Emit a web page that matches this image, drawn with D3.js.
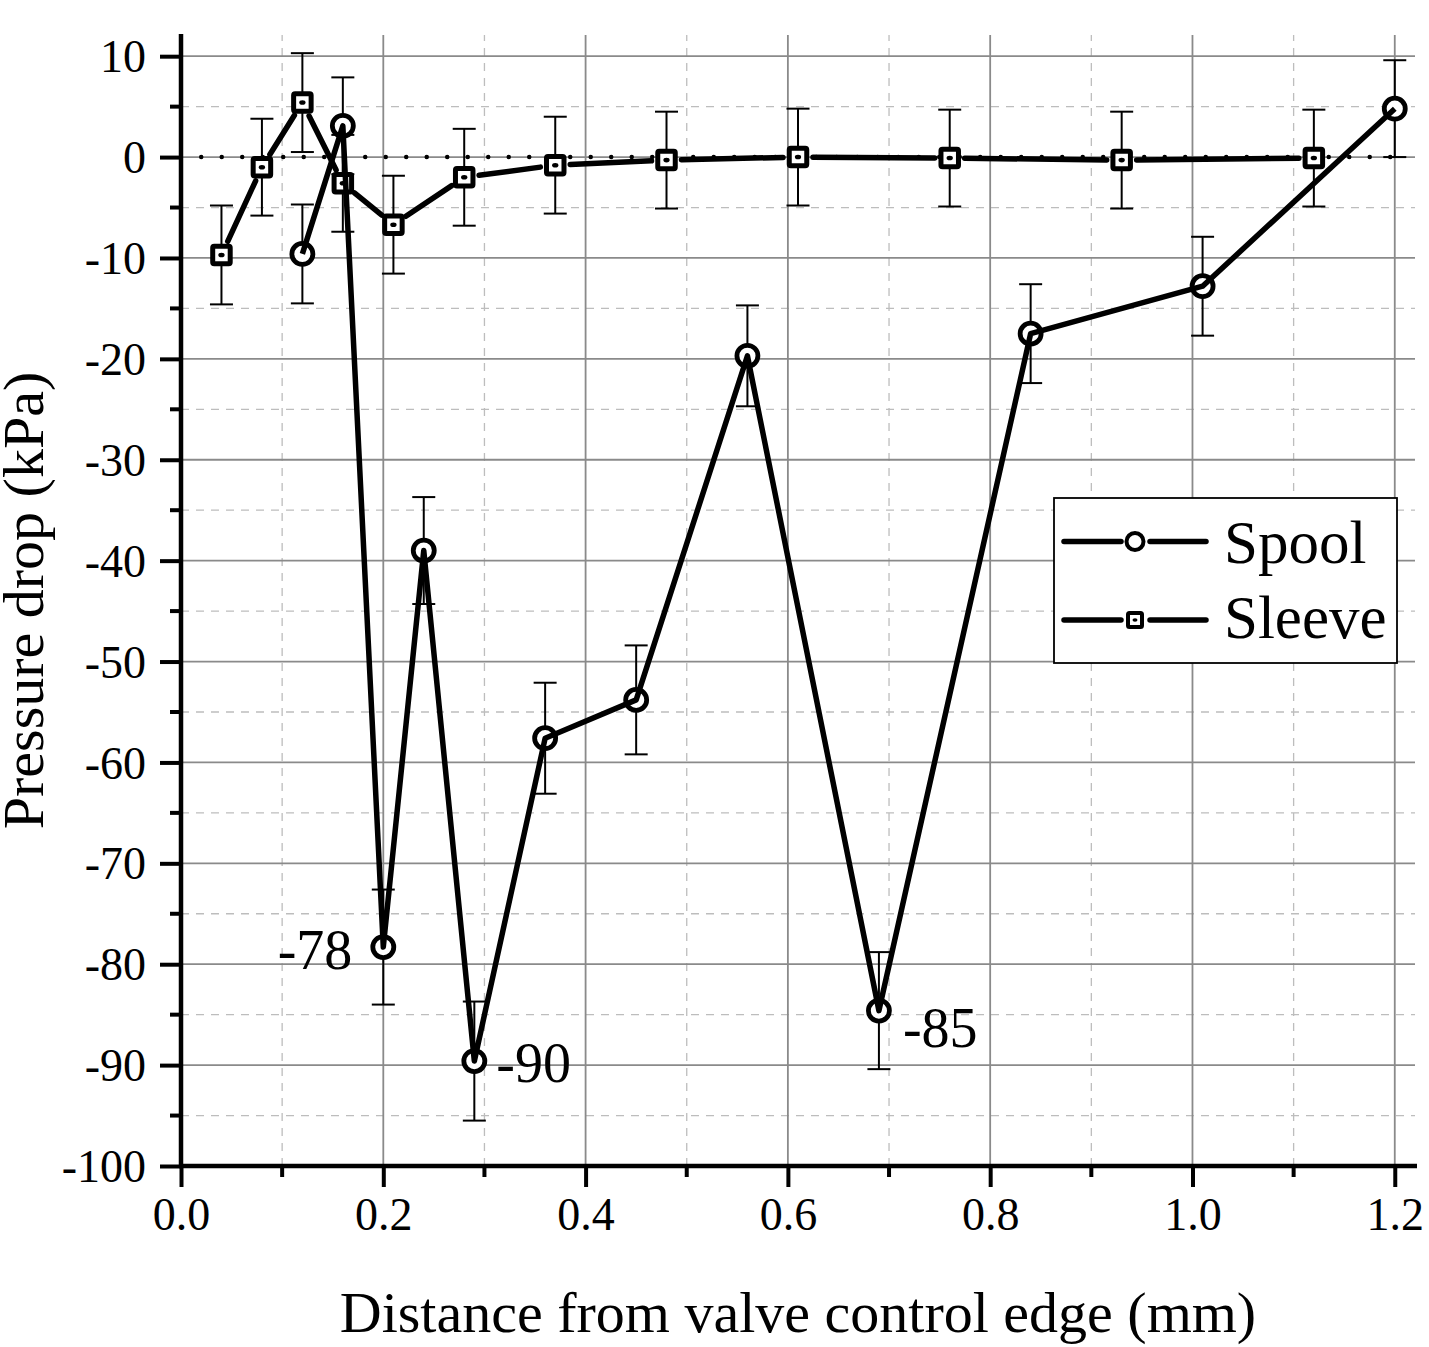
<!DOCTYPE html>
<html>
<head>
<meta charset="utf-8">
<script src="https://cdn.jsdelivr.net/npm/d3@7"></script>
<style>
  body { margin: 0; background: #fff; }
  svg { display: block; font-family: "Liberation Serif", "Times New Roman", serif; }
</style>
</head>
<body>
<div id="chart"></div>
<script>
// data
var spoolX = [0.12, 0.16, 0.20, 0.24, 0.29, 0.36, 0.45, 0.56, 0.69, 0.84, 1.01, 1.20];
var spoolY = [-9.6, 3.1, -78.3, -39.0, -89.6, -57.6, -53.8, -19.7, -84.6, -17.5, -12.8, 4.8];
var spoolErr = [4.9, 4.8, 5.7, 5.3, 5.9, 5.5, 5.4, 5.0, 5.8, 4.9, 4.9, 4.8];

var sleeveX = [0.04, 0.08, 0.12, 0.16, 0.21, 0.28, 0.37, 0.48, 0.61, 0.76, 0.93, 1.12];
var sleeveY = [-9.7, -1.0, 5.4, -2.6, -6.7, -2.0, -0.8, -0.3, 0.0, -0.1, -0.3, -0.1];
var sleeveErr = [4.9, 4.8, 4.9, 4.8, 4.85, 4.8, 4.8, 4.8, 4.8, 4.8, 4.8, 4.8];

var xTicks = [0, 0.2, 0.4, 0.6, 0.8, 1.0, 1.2];
var yTicks = [10, 0, -10, -20, -30, -40, -50, -60, -70, -80, -90, -100];
var peakLabels = [{i: 2, text: "-78"}, {i: 4, text: "-90"}, {i: 8, text: "-85"}];

var W = 1429, H = 1347;
var margin = {left: 181, right: 14, top: 35, bottom: 181};
var serif = "Liberation Serif, Times New Roman, serif";

var svg = d3.select("#chart").append("svg")
  .attr("width", W).attr("height", H);

var x = d3.scaleLinear().domain([0, 1.22]).range([margin.left, W - margin.right]);
var y = d3.scaleLinear().domain([-100, 12.1]).range([H - margin.bottom, margin.top]);

var x0 = x.range()[0], x1 = x.range()[1], y0 = y.range()[0], y1 = y.range()[1];

//grid lines
var minorX = d3.range(0.1, 1.22, 0.2);
var minorY = d3.range(-95, 12, 10);

svg.append("g").selectAll("line").data(minorX).enter().append("line")
  .attr("x1", d => x(d)).attr("x2", d => x(d)).attr("y1", y0).attr("y2", y1)
  .attr("stroke", "#bdbdbd").attr("stroke-width", 1.3).attr("stroke-dasharray", "8,7");
svg.append("g").selectAll("line").data(minorY).enter().append("line")
  .attr("y1", d => y(d)).attr("y2", d => y(d)).attr("x1", x0).attr("x2", x1)
  .attr("stroke", "#bdbdbd").attr("stroke-width", 1.3).attr("stroke-dasharray", "8,7");
svg.append("g").selectAll("line").data(xTicks.slice(1)).enter().append("line")
  .attr("x1", d => x(d)).attr("x2", d => x(d)).attr("y1", y0).attr("y2", y1)
  .attr("stroke", "#8a8a8a").attr("stroke-width", 1.8);
svg.append("g").selectAll("line").data(yTicks.slice(0, -1)).enter().append("line")
  .attr("y1", d => y(d)).attr("y2", d => y(d)).attr("x1", x0).attr("x2", x1)
  .attr("stroke", "#8a8a8a").attr("stroke-width", 1.8);

// dotted zero reference
svg.append("line")
  .attr("x1", x(0.02)).attr("x2", x(1.21)).attr("y1", y(0)).attr("y2", y(0))
  .attr("stroke", "#000").attr("stroke-width", 4.5)
  .attr("stroke-linecap", "round").attr("stroke-dasharray", "0,20.5");

// axes
var xAxis = d3.axisBottom(x).tickValues(xTicks).tickSize(21).tickPadding(10)
  .tickFormat(d3.format(".1f"));
var gx = svg.append("g").attr("transform", "translate(0," + y0 + ")").call(xAxis);
gx.selectAll(".tick line").attr("stroke-width", 4);
gx.selectAll("text").attr("font-size", 46).attr("fill", "#000")
  .attr("font-family", serif).attr("dy", "0.72em");
gx.select(".domain").remove();

var yAxis = d3.axisLeft(y).tickValues(yTicks).tickSize(21).tickPadding(14)
  .tickFormat(d => String(d));
var gy = svg.append("g").attr("transform", "translate(" + x0 + ",0)").call(yAxis);
gy.selectAll(".tick line").attr("stroke-width", 4);
gy.selectAll("text").attr("font-size", 46).attr("fill", "#000")
  .attr("font-family", serif).attr("dy", "0.34em");
gy.select(".domain").remove();

// minor ticks
svg.append("g").selectAll("line").data(minorX).enter().append("line")
  .attr("x1", d => x(d)).attr("x2", d => x(d)).attr("y1", y0).attr("y2", y0 + 11)
  .attr("stroke", "#000").attr("stroke-width", 4);
svg.append("g").selectAll("line").data(minorY).enter().append("line")
  .attr("y1", d => y(d)).attr("y2", d => y(d)).attr("x1", x0 - 11).attr("x2", x0)
  .attr("stroke", "#000").attr("stroke-width", 4);

svg.append("line").attr("x1", x0).attr("x2", x0).attr("y1", y0 + 2).attr("y2", y1 - 1)
  .attr("stroke", "#000").attr("stroke-width", 4.5);
svg.append("line").attr("x1", x0 - 2).attr("x2", x1 + 2).attr("y1", y0).attr("y2", y0)
  .attr("stroke", "#000").attr("stroke-width", 4.5);

// axis titles
svg.append("text")
  .attr("x", (x0 + x1) / 2).attr("y", 1332)
  .attr("text-anchor", "middle").attr("font-size", 58)
  .text("Distance from valve control edge (mm)");
svg.append("text")
  .attr("transform", "translate(43," + ((y0 + y1) / 2) + ") rotate(-90)")
  .attr("text-anchor", "middle").attr("font-size", 58)
  .text("Pressure drop (kPa)");

// error bars
function errorBars(xs, ys, es) {
  var g = svg.append("g").attr("stroke", "#000").attr("stroke-width", 2);
  xs.forEach(function(xv, i) {
    var cx = x(xv), top = y(ys[i] + es[i]), bot = y(ys[i] - es[i]);
    g.append("line").attr("x1", cx).attr("x2", cx).attr("y1", top).attr("y2", bot);
    g.append("line").attr("x1", cx - 11.5).attr("x2", cx + 11.5).attr("y1", top).attr("y2", top);
    g.append("line").attr("x1", cx - 11.5).attr("x2", cx + 11.5).attr("y1", bot).attr("y2", bot);
  });
}
errorBars(sleeveX, sleeveY, sleeveErr);
errorBars(spoolX, spoolY, spoolErr);

// sleeve line, segments broken around markers
var sleevePts = sleeveX.map((d, i) => [x(d), y(sleeveY[i])]);
var gap = 15;
for (var i = 0; i < sleevePts.length - 1; i++) {
  var a = sleevePts[i], b = sleevePts[i + 1];
  var dx = b[0] - a[0], dy = b[1] - a[1], len = Math.sqrt(dx * dx + dy * dy);
  if (len <= 2 * gap) continue;
  svg.append("line")
    .attr("x1", a[0] + dx / len * gap).attr("y1", a[1] + dy / len * gap)
    .attr("x2", b[0] - dx / len * gap).attr("y2", b[1] - dy / len * gap)
    .attr("stroke", "#000").attr("stroke-width", 5.5).attr("stroke-linecap", "round");
}

function squareMarker(g, cx, cy, s, sw) {
  g.append("rect").attr("x", cx - s / 2).attr("y", cy - s / 2)
    .attr("width", s).attr("height", s).attr("rx", 1.5)
    .attr("fill", "#fff").attr("stroke", "#000").attr("stroke-width", sw);
  g.append("ellipse").attr("cx", cx).attr("cy", cy).attr("rx", s * 0.18).attr("ry", s * 0.13)
    .attr("fill", "#000");
}
var gs = svg.append("g");
sleevePts.forEach(p => squareMarker(gs, p[0], p[1], 17.5, 5));

// spool: circles under the line
var spoolPts = spoolX.map((d, i) => [x(d), y(spoolY[i])]);
svg.append("g").selectAll("circle").data(spoolPts).enter().append("circle")
  .attr("cx", d => d[0]).attr("cy", d => d[1]).attr("r", 10.5)
  .attr("fill", "#fff").attr("stroke", "#000").attr("stroke-width", 4.8);
svg.append("path").datum(spoolPts)
  .attr("d", d3.line())
  .attr("fill", "none").attr("stroke", "#000").attr("stroke-width", 5.5)
  .attr("stroke-linejoin", "round");

// peak annotations
var lbl = svg.append("g").attr("font-size", 56);
lbl.append("text").attr("x", x(spoolX[2]) - 31).attr("y", y(spoolY[2]) + 22)
  .attr("text-anchor", "end").text(peakLabels[0].text);
lbl.append("text").attr("x", x(spoolX[4]) + 22).attr("y", y(spoolY[4]) + 21)
  .text(peakLabels[1].text);
lbl.append("text").attr("x", x(spoolX[8]) + 24).attr("y", y(spoolY[8]) + 36)
  .text(peakLabels[2].text);

// legend
var leg = svg.append("g");
leg.append("rect").attr("x", 1054).attr("y", 498).attr("width", 343).attr("height", 165)
  .attr("fill", "#fff").attr("stroke", "#000").attr("stroke-width", 1.8);
[541.5, 620].forEach(function(ly, k) {
  leg.append("line").attr("x1", 1064).attr("x2", 1121).attr("y1", ly).attr("y2", ly)
    .attr("stroke", "#000").attr("stroke-width", 5.5).attr("stroke-linecap", "round");
  leg.append("line").attr("x1", 1150).attr("x2", 1206).attr("y1", ly).attr("y2", ly)
    .attr("stroke", "#000").attr("stroke-width", 5.5).attr("stroke-linecap", "round");
  if (k === 0) {
    leg.append("circle").attr("cx", 1135).attr("cy", ly).attr("r", 8.5)
      .attr("fill", "#fff").attr("stroke", "#000").attr("stroke-width", 4);
  } else {
    squareMarker(leg, 1135, ly, 14, 4);
  }
});
leg.append("text").attr("x", 1224).attr("y", 563).attr("font-size", 61).text("Spool");
leg.append("text").attr("x", 1224).attr("y", 638).attr("font-size", 61).text("Sleeve");
</script>
</body>
</html>
